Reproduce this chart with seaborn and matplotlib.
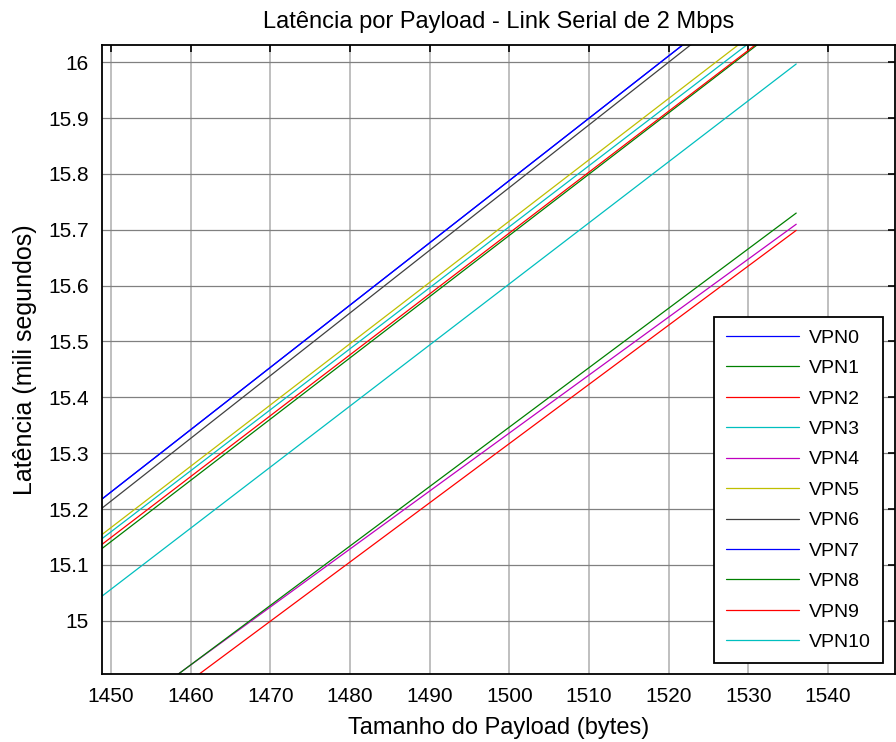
import matplotlib
matplotlib.use('Agg')
import matplotlib.pyplot as plt
import seaborn as sns
import pandas as pd

# payload range of each line (bytes); the view is zoomed so the start is clipped
payload = [1440, 1536]

# latency (ms) at the start and end payload
vpn0 = [15.119, 16.190]
vpn1 = [15.032, 16.085]
vpn2 = [15.040, 16.087]
vpn3 = [15.050, 16.099]
vpn4 = [14.713, 15.710]
vpn5 = [15.057, 16.111]
vpn6 = [15.102, 16.180]
vpn7 = [15.119, 16.190]
vpn8 = [14.708, 15.730]
vpn9 = [14.681, 15.699]
vpn10 = [14.947, 15.997]

names = ['VPN0', 'VPN1', 'VPN2', 'VPN3', 'VPN4', 'VPN5',
         'VPN6', 'VPN7', 'VPN8', 'VPN9', 'VPN10']
series = [vpn0, vpn1, vpn2, vpn3, vpn4, vpn5, vpn6, vpn7, vpn8, vpn9, vpn10]

# old matlab line colour order
colors = ['#0000ff', '#008000', '#ff0000', '#00bfbf', '#bf00bf', '#bfbf00',
          '#404040', '#0000ff', '#008000', '#ff0000', '#00bfbf']

xticks = [1450, 1460, 1470, 1480, 1490, 1500, 1510, 1520, 1530, 1540]
yticks = [15, 15.1, 15.2, 15.3, 15.4, 15.5, 15.6, 15.7, 15.8, 15.9, 16]

sns.set_style('white')
plt.rcParams['font.family'] = ['Liberation Sans', 'DejaVu Sans']
plt.rcParams['text.color'] = 'black'
plt.rcParams['axes.labelcolor'] = 'black'

fig = plt.figure(figsize=(8.96, 7.42), dpi=100)
ax = fig.add_axes([101.5 / 896, 68 / 742, (895 - 101.5) / 896, (674 - 45) / 742])

for name, vals, c in zip(names, series, colors):
    df = pd.DataFrame({'payload': payload, 'latencia': vals})
    sns.lineplot(data=df, x='payload', y='latencia', color=c, lw=0.9,
                 label=name, ax=ax, legend=False)

ax.set_xlim(1448.8, 1548.4)
ax.set_ylim(14.9045, 16.031)
ax.set_xticks(xticks)
ax.set_yticks(yticks)
ax.set_yticklabels(['15', '15.1', '15.2', '15.3', '15.4', '15.5',
                    '15.6', '15.7', '15.8', '15.9', '16'])

ax.xaxis.grid(True, color='#b4b4b4', lw=1.2)
ax.yaxis.grid(True, color='#808080', lw=0.9)
ax.set_axisbelow(True)
for s in ax.spines.values():
    s.set_color('black')
    s.set_linewidth(1.3)

ax.tick_params(direction='in', top=True, right=True, length=5, width=1.2,
               labelsize=15, colors='black', pad=9)

ax.set_title('Latência por Payload - Link Serial de 2 Mbps', fontsize=17,
             pad=12, color='black')
ax.set_xlabel('Tamanho do Payload (bytes)', fontsize=17, labelpad=8)
ax.set_ylabel('Latência (mili segundos)', fontsize=18, labelpad=8)

leg = ax.legend(loc='upper left', bbox_to_anchor=(714 / 896, 1 - 317 / 742),
                bbox_transform=fig.transFigure, borderaxespad=0, fontsize=14,
                handlelength=3.75, handletextpad=0.5, labelspacing=0.66,
                borderpad=0.62, fancybox=False, framealpha=1)
leg.get_frame().set_edgecolor('black')
leg.get_frame().set_linewidth(1.3)
for t in leg.get_texts():
    t.set_color('black')

fig.savefig('out.png', dpi=100)
